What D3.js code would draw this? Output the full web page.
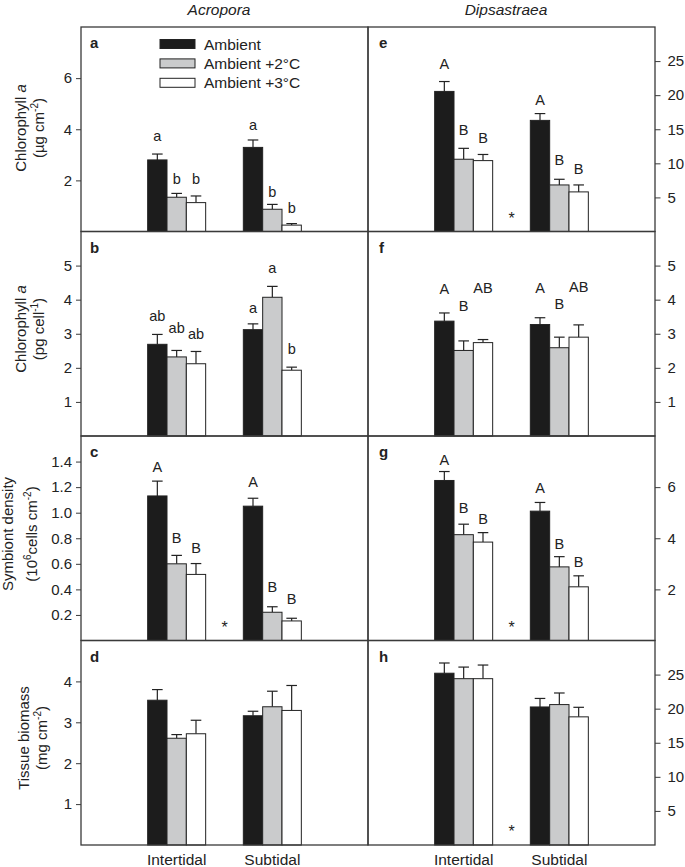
<!DOCTYPE html>
<html>
<head>
<meta charset="utf-8">
<script src="https://cdn.jsdelivr.net/npm/d3@7"></script>
<style>
  html, body { margin: 0; padding: 0; background: #fff; }
  svg { display: block; font-family: "Liberation Sans", Arial, Helvetica, sans-serif; }
</style>
</head>
<body>
<svg id="chart" width="685" height="867"></svg>
<script>
// ---------- DATA ----------
const groups = ["Intertidal", "Subtidal"];
const treatments = ["Ambient", "Ambient +2°C", "Ambient +3°C"];
const genera = ["Acropora", "Dipsastraea"];

// each: [Intertidal [amb, +2, +3], Subtidal [amb, +2, +3]]
// a – Acropora chlorophyll a (µg cm-2)
const chlAreaAcroMean = [[2.80, 1.34, 1.13], [3.29, 0.87, 0.25]];
const chlAreaAcroSE   = [[0.23, 0.15, 0.26], [0.29, 0.19, 0.06]];
const chlAreaAcroLetters = [["a", "b", "b"], ["a", "b", "b"]];
const chlAreaAcroLetterAt = [[3.74, 2.09, 2.09], [4.19, 1.58, 0.93]];
// e – Dipsastraea chlorophyll a (µg cm-2)
const chlAreaDipsMean = [[20.55, 10.6, 10.4], [16.3, 6.83, 5.81]];
const chlAreaDipsSE   = [[1.45, 1.6, 0.9], [1.0, 0.83, 1.02]];
const chlAreaDipsLetters = [["A", "B", "B"], ["A", "B", "B"]];
const chlAreaDipsLetterAt = [[24.7, 15.0, 13.8], [19.4, 10.5, 9.2]];
// b – Acropora chlorophyll a (pg cell-1)
const chlCellAcroMean = [[2.69, 2.32, 2.12], [3.12, 4.07, 1.93]];
const chlCellAcroSE   = [[0.29, 0.19, 0.36], [0.17, 0.32, 0.09]];
const chlCellAcroLetters = [["ab", "ab", "ab"], ["a", "a", "b"]];
const chlCellAcroLetterAt = [[3.54, 3.17, 3.02], [3.76, 4.93, 2.57]];
// f – Dipsastraea chlorophyll a (pg cell-1)
const chlCellDipsMean = [[3.37, 2.51, 2.74], [3.27, 2.59, 2.90]];
const chlCellDipsSE   = [[0.24, 0.28, 0.09], [0.20, 0.31, 0.36]];
const chlCellDipsLetters = [["A", "B", "AB"], ["A", "B", "AB"]];
const chlCellDipsLetterAt = [[4.34, 3.82, 4.36], [4.36, 3.88, 4.39]];
// c – Acropora symbiont density
const symAcroMean = [[1.131, 0.600, 0.517], [1.051, 0.221, 0.153]];
const symAcroSE   = [[0.116, 0.066, 0.085], [0.062, 0.043, 0.021]];
const symAcroLetters = [["A", "B", "B"], ["A", "B", "B"]];
const symAcroLetterAt = [[1.363, 0.806, 0.731], [1.247, 0.422, 0.329]];
// g – Dipsastraea symbiont density
const symDipsMean = [[6.26, 4.14, 3.85], [5.06, 2.88, 2.10]];
const symDipsSE   = [[0.35, 0.41, 0.37], [0.34, 0.40, 0.43]];
const symDipsLetters = [["A", "B", "B"], ["A", "B", "B"]];
const symDipsLetterAt = [[7.07, 5.19, 4.79], [5.98, 3.81, 3.09]];
// d – Acropora tissue biomass
const bioAcroMean = [[3.54, 2.61, 2.72], [3.16, 3.38, 3.29]];
const bioAcroSE   = [[0.26, 0.09, 0.33], [0.11, 0.38, 0.61]];
// h – Dipsastraea tissue biomass
const bioDipsMean = [[25.2, 24.4, 24.4], [20.25, 20.6, 18.8]];
const bioDipsSE   = [[1.5, 1.7, 2.0], [1.25, 1.7, 1.4]];

// axis domains & tick labels
const yMaxLeft  = [8, 6, 1.6, 5];
const yMaxRight = [30, 6, 8, 30];
const ticksLeft  = [[2, 4, 6], [1, 2, 3, 4, 5], [0.2, 0.4, 0.6, 0.8, 1.0, 1.2, 1.4], [1, 2, 3, 4]];
const ticksRight = [[5, 10, 15, 20, 25], [1, 2, 3, 4, 5], [2, 4, 6], [5, 10, 15, 20, 25, ]];
const panelLetters = [["a", "b", "c", "d"], ["e", "f", "g", "h"]];
const starPanels = [[false, false, true, false], [true, false, true, true]];

// ---------- LAYOUT ----------
const svg = d3.select("#chart");
const colX = [81, 368];
const panelW = 287;
const rowY = [27, 231.5, 436, 640.5];
const panelH = 204.5;
const colors = ["#1c1c1c", "#cacbcc", "#ffffff"];
const ink = "#222";

const x0 = d3.scalePoint().domain(groups).range([0, panelW]).padding(1);
const x1 = d3.scaleBand().domain(treatments).range([-29, 29]);

const panels = [
  [
    { mean: chlAreaAcroMean, se: chlAreaAcroSE, letters: chlAreaAcroLetters, at: chlAreaAcroLetterAt },
    { mean: chlCellAcroMean, se: chlCellAcroSE, letters: chlCellAcroLetters, at: chlCellAcroLetterAt },
    { mean: symAcroMean, se: symAcroSE, letters: symAcroLetters, at: symAcroLetterAt },
    { mean: bioAcroMean, se: bioAcroSE, letters: null, at: null }
  ],
  [
    { mean: chlAreaDipsMean, se: chlAreaDipsSE, letters: chlAreaDipsLetters, at: chlAreaDipsLetterAt },
    { mean: chlCellDipsMean, se: chlCellDipsSE, letters: chlCellDipsLetters, at: chlCellDipsLetterAt },
    { mean: symDipsMean, se: symDipsSE, letters: symDipsLetters, at: symDipsLetterAt },
    { mean: bioDipsMean, se: bioDipsSE, letters: null, at: null }
  ]
];

panels.forEach((col, ci) => {
  col.forEach((p, ri) => {
    const g = svg.append("g").attr("transform", `translate(${colX[ci]},${rowY[ri]})`);
    const yMax = ci === 0 ? yMaxLeft[ri] : yMaxRight[ri];
    const y = d3.scaleLinear().domain([0, yMax]).range([panelH, 0]);

    // bars
    groups.forEach((grp, gi) => {
      treatments.forEach((tr, ti) => {
        const xl = x0(grp) + x1(tr);
        const bw = x1.bandwidth();
        const v = p.mean[gi][ti];
        const e = v + p.se[gi][ti];
        const cx = xl + bw / 2;
        // error bar
        g.append("line").attr("x1", cx).attr("x2", cx).attr("y1", y(v)).attr("y2", y(e))
          .attr("stroke", ink).attr("stroke-width", 1.2);
        g.append("line").attr("x1", cx - 5.3).attr("x2", cx + 5.3).attr("y1", y(e)).attr("y2", y(e))
          .attr("stroke", ink).attr("stroke-width", 1.2);
        g.append("rect").attr("x", xl).attr("y", y(v)).attr("width", bw).attr("height", y(0) - y(v))
          .attr("fill", colors[ti]).attr("stroke", ink).attr("stroke-width", 1);
        if (p.letters) {
          g.append("text").attr("x", cx).attr("y", y(p.at[gi][ti]) + 5.5)
            .attr("text-anchor", "middle").attr("font-size", 14.5).attr("fill", "#222")
            .text(p.letters[gi][ti]);
        }
      });
    });

    // star between groups
    if (starPanels[ci][ri]) {
      g.append("text").attr("x", panelW / 2).attr("y", panelH - 8)
        .attr("text-anchor", "middle").attr("font-size", 16).attr("fill", "#222").text("*");
    }

    // frame
    g.append("rect").attr("x", 0).attr("y", 0).attr("width", panelW).attr("height", panelH)
      .attr("fill", "none").attr("stroke", "#3a3a3a").attr("stroke-width", 1.3);

    // axis
    if (ci === 0) {
      const ax = d3.axisLeft(y).tickValues(ticksLeft[ri]).tickSize(5).tickPadding(4)
        .tickFormat(ri === 2 ? d3.format(".1f") : d3.format("d"));
      const ag = g.append("g").call(ax);
      ag.select(".domain").remove();
      ag.selectAll("text").attr("font-size", 15).attr("fill", "#222").attr("font-family", null);
      ag.selectAll("line").attr("stroke", "#3a3a3a");
    } else {
      const ax = d3.axisRight(y).tickValues(ticksRight[ri]).tickSize(5.5).tickPadding(7)
        .tickFormat(d3.format("d"));
      const ag = g.append("g").attr("transform", `translate(${panelW},0)`).call(ax);
      ag.select(".domain").remove();
      ag.selectAll("text").attr("font-size", 15).attr("fill", "#222").attr("font-family", null);
      ag.selectAll("line").attr("stroke", "#3a3a3a");
    }

    // panel letter
    g.append("text").attr("x", ci === 0 ? 9 : 11).attr("y", 21).attr("font-weight", "bold")
      .attr("font-size", 15).attr("fill", "#222").text(panelLetters[ci][ri]);
  });
});

// bottom category labels
colX.forEach(cx => {
  groups.forEach(grp => {
    svg.append("text").attr("x", cx + x0(grp)).attr("y", 865).attr("text-anchor", "middle")
      .attr("font-size", 15.5).attr("fill", "#222").text(grp);
  });
});

// genus titles
svg.append("text").attr("x", 219).attr("y", 15).attr("text-anchor", "middle")
  .attr("font-style", "italic").attr("font-size", 15.5).attr("fill", "#222").text(genera[0]);
svg.append("text").attr("x", 506).attr("y", 15).attr("text-anchor", "middle")
  .attr("font-style", "italic").attr("font-size", 15.5).attr("fill", "#222").text(genera[1]);

// legend
treatments.forEach((tr, i) => {
  const ly = 44 + i * 19.4;
  svg.append("rect").attr("x", 160).attr("y", ly - 4.5).attr("width", 35).attr("height", 9)
    .attr("fill", colors[i]).attr("stroke", ink).attr("stroke-width", 1);
  svg.append("text").attr("x", 204).attr("y", ly + 5.5).attr("font-size", 15.5).attr("fill", "#222").text(tr);
});

// y-axis titles
function yTitle(cy, x1p, x2p, line1, line2) {
  const t1 = svg.append("text").attr("transform", `translate(${x1p},${cy}) rotate(-90)`)
    .attr("text-anchor", "middle").attr("font-size", 15).attr("fill", "#222");
  line1(t1);
  const t2 = svg.append("text").attr("transform", `translate(${x2p},${cy}) rotate(-90)`)
    .attr("text-anchor", "middle").attr("font-size", 15).attr("fill", "#222");
  line2(t2);
}
function sup(t, base, s, after) {
  t.append("tspan").text(base);
  t.append("tspan").attr("dy", -6).attr("font-size", 10).text(s);
  t.append("tspan").attr("dy", 6).text(after);
}
yTitle(128, 26, 44,
  t => { t.append("tspan").text("Chlorophyll "); t.append("tspan").attr("font-style", "italic").text("a"); },
  t => sup(t, "(µg cm", "-2", ")"));
yTitle(329, 26, 44,
  t => { t.append("tspan").text("Chlorophyll "); t.append("tspan").attr("font-style", "italic").text("a"); },
  t => sup(t, "(pg cell", "-1", ")"));
yTitle(534, 13, 37,
  t => t.text("Symbiont density"),
  t => { t.append("tspan").text("(10"); t.append("tspan").attr("dy", -6).attr("font-size", 10).text("6");
         t.append("tspan").attr("dy", 6).text("cells cm"); t.append("tspan").attr("dy", -6).attr("font-size", 10).text("-2");
         t.append("tspan").attr("dy", 6).text(")"); });
yTitle(738, 29, 47,
  t => t.text("Tissue biomass"),
  t => sup(t, "(mg cm", "-2", ")"));
</script>
</body>
</html>
